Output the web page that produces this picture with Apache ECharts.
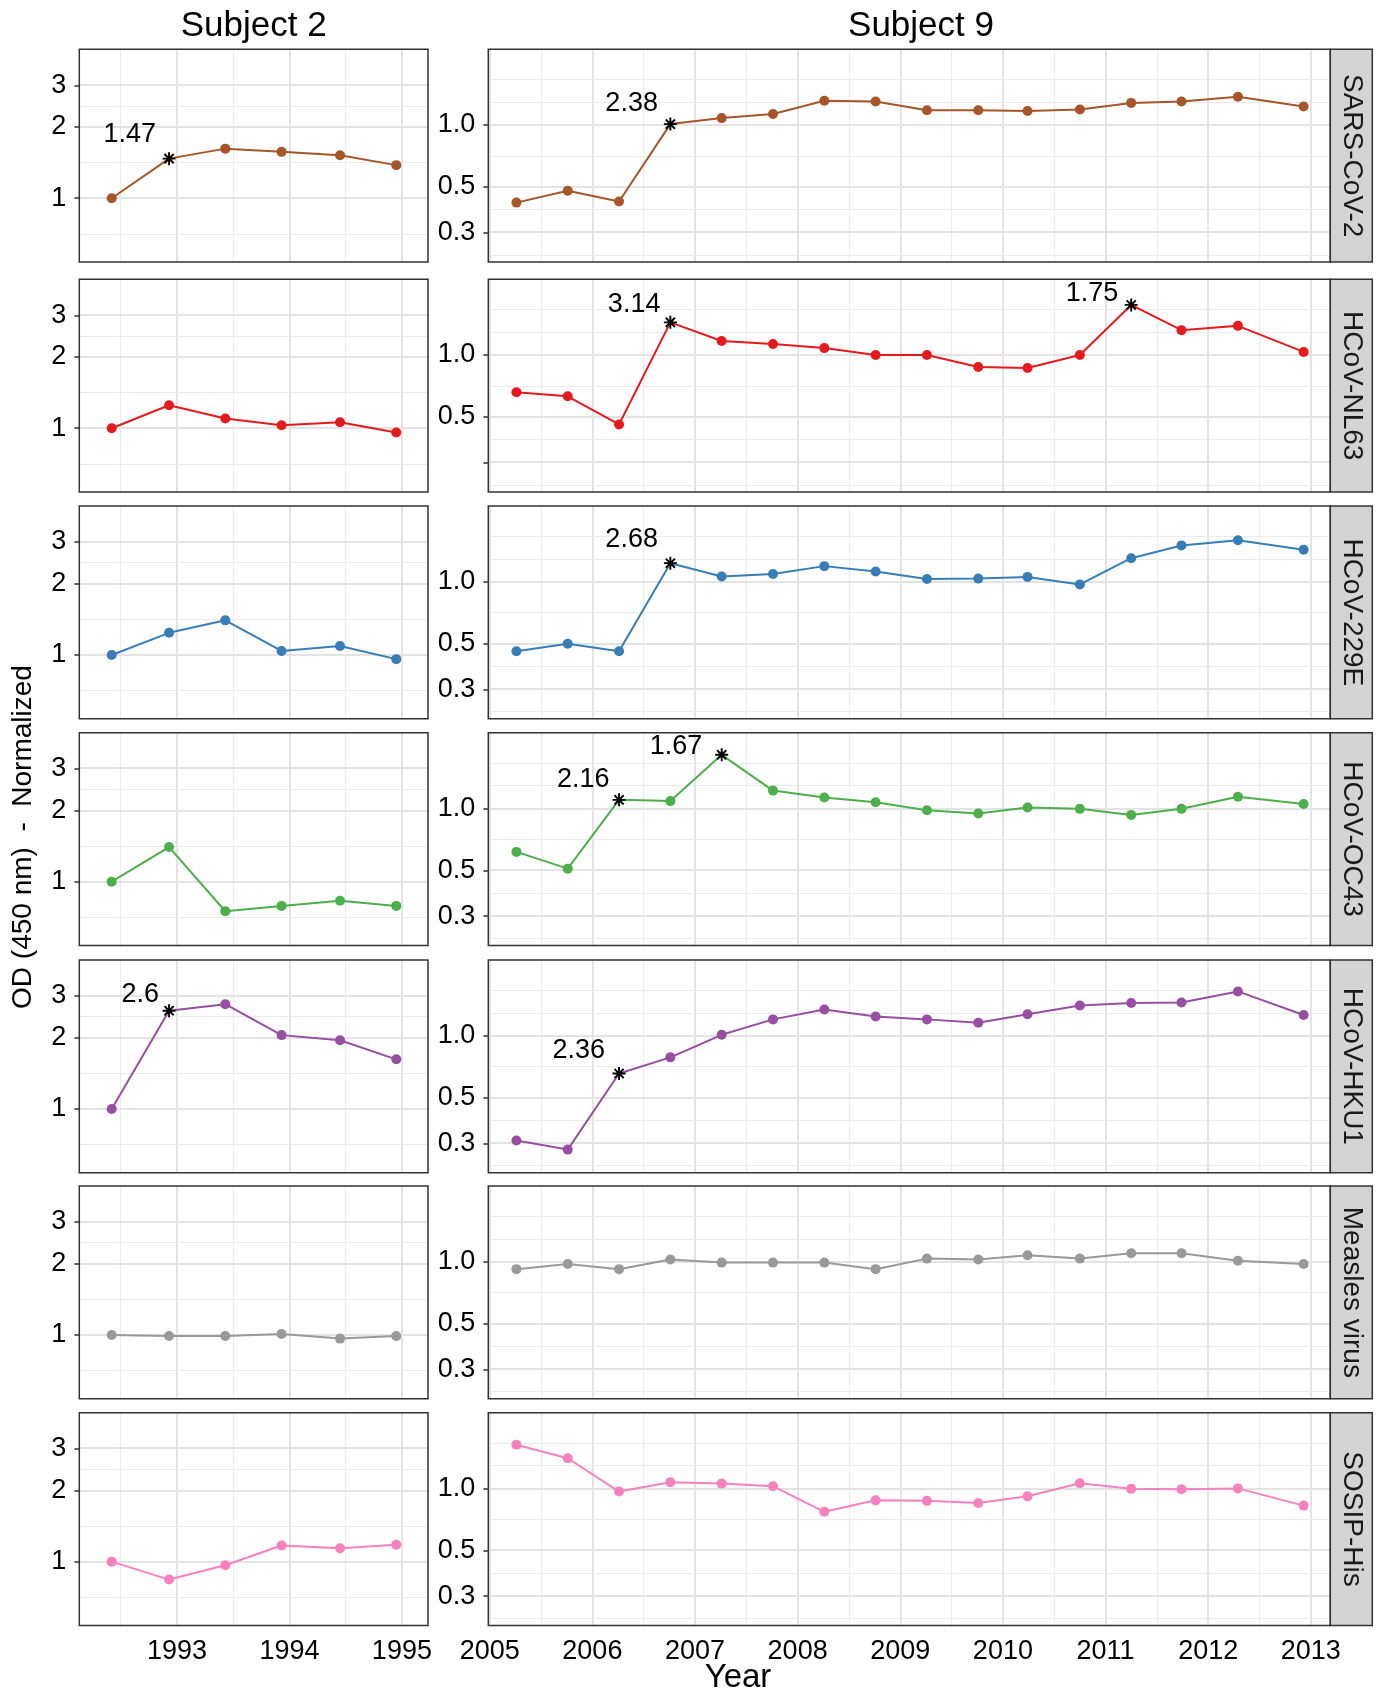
<!DOCTYPE html>
<html>
<head>
<meta charset="utf-8">
<title>OD (450 nm) - Normalized</title>
<script src="https://cdn.jsdelivr.net/npm/echarts@6.0.0/dist/echarts.min.js"></script>
<style>
  html, body { margin: 0; padding: 0; background: #fff; }
  #chart { width: 1380px; height: 1692px; }
</style>
</head>
<body>
<div id="chart"></div>
<script>
let antigens = ['SARS-CoV-2', 'HCoV-NL63', 'HCoV-229E', 'HCoV-OC43', 'HCoV-HKU1', 'Measles virus', 'SOSIP-His'];
let antigenColors = ['#A65628', '#E41A1C', '#377EB8', '#4DAF4A', '#984EA3', '#999999', '#F781BF'];

let subject2Years = [1992.42, 1992.93, 1993.43, 1993.93, 1994.45, 1994.95];
let subject9Years = [2005.26, 2005.76, 2006.26, 2006.76, 2007.26, 2007.76, 2008.26, 2008.76,
  2009.26, 2009.76, 2010.24, 2010.75, 2011.25, 2011.74, 2012.29, 2012.93];

let s2Sars = [1, 1.47, 1.62, 1.57, 1.52, 1.38];
let s2Nl63 = [1, 1.25, 1.10, 1.03, 1.06, 0.96];
let s2E229 = [1, 1.24, 1.40, 1.04, 1.09, 0.96];
let s2Oc43 = [1, 1.40, 0.75, 0.79, 0.83, 0.79];
let s2Hku1 = [1, 2.60, 2.77, 2.05, 1.95, 1.62];
let s2Measles = [1, 0.99, 0.99, 1.01, 0.965, 0.99];
let s2Sosip = [1, 0.84, 0.965, 1.17, 1.14, 1.18];

let s9Sars = [0.42, 0.48, 0.425, 1.01, 1.08, 1.13, 1.31, 1.30, 1.18, 1.18, 1.17, 1.19, 1.28, 1.30, 1.37, 1.23];
let s9Nl63 = [0.66, 0.63, 0.46, 1.44, 1.17, 1.13, 1.08, 1.0, 1.0, 0.875, 0.865, 1.0, 1.75, 1.32, 1.385, 1.035];
let s9E229 = [0.46, 0.50, 0.46, 1.23, 1.06, 1.09, 1.19, 1.12, 1.03, 1.035, 1.055, 0.97, 1.30, 1.50, 1.59, 1.43];
let s9Oc43 = [0.615, 0.51, 1.10, 1.085, 1.82, 1.22, 1.13, 1.07, 0.98, 0.945, 1.01, 0.995, 0.93, 0.995, 1.14, 1.05];
let s9Hku1 = [0.31, 0.28, 0.655, 0.785, 1.01, 1.20, 1.34, 1.24, 1.20, 1.155, 1.27, 1.40, 1.44, 1.45, 1.64, 1.26];
let s9Measles = [0.92, 0.975, 0.92, 1.025, 0.99, 0.99, 0.99, 0.92, 1.035, 1.025, 1.075, 1.035, 1.10, 1.10, 1.01, 0.975];
let s9Sosip = [1.63, 1.40, 0.965, 1.07, 1.055, 1.025, 0.77, 0.875, 0.87, 0.85, 0.915, 1.06, 0.995, 0.99, 1.0, 0.825];

// fold-change markers (subject, antigen row, point index, text)
let starSubject = [2, 2, 9, 9, 9, 9, 9, 9, 9];
let starAntigen = [0, 4, 0, 1, 1, 2, 3, 3, 4];
let starIndex = [1, 1, 3, 3, 12, 3, 2, 4, 2];
let starText = ['1.47', '2.6', '2.38', '3.14', '1.75', '2.68', '2.16', '1.67', '2.36'];

let s2Ticks = [1, 2, 3];
let s2TickLabels = ['1', '2', '3'];
let s2MinorY = [0.707, 1.414, 2.449];
let s2YearTicks = [1993, 1994, 1995];
let s2MinorYears = [1992.5, 1993.5, 1994.5];

let s9Ticks = [0.3, 0.5, 1.0];
let s9TickLabels = ['0.3', '0.5', '1.0'];
let s9MinorY = [0.232, 0.387, 0.707, 1.29, 1.667];
let s9YearTicks = [2005, 2006, 2007, 2008, 2009, 2010, 2011, 2012, 2013];
let s9MinorYears = [2005.5, 2006.5, 2007.5, 2008.5, 2009.5, 2010.5, 2011.5, 2012.5];
let s9UnlabeledTicks = [[], [0.3], [], [], [], [], []];

let s2XRange = [1992.132, 1995.232];
let s2YRange = [0.538, 4.256];
let s9XRange = [2004.986, 2013.19];
let s9YRange = [0.2163, 2.33];

// layout
let FONT = '"Liberation Sans", Arial, Helvetica, sans-serif';
let rowTops = [49.3, 279.3, 506, 732.7, 960, 1186, 1412.7];
let panelH = 212.7;
let stripW = 42;
let starNudge = [[12, 24], [9, 16], [11.5, 21], [9, 18], [12, 11], [11.5, 24], [8.5, 20], [18.5, 8], [13, 23]];
let asterisk = 'path://M5 0V10M0 5H10M1.46 1.46L8.54 8.54M1.46 8.54L8.54 1.46';

let lg = v => Math.log10(v);

let subjects = [
  {
    id: 2, title: 'Subject 2', years: subject2Years,
    values: [s2Sars, s2Nl63, s2E229, s2Oc43, s2Hku1, s2Measles, s2Sosip],
    xRange: s2XRange, yRange: s2YRange, ticks: s2Ticks, tickLabels: s2TickLabels,
    minorY: s2MinorY, yearTicks: s2YearTicks, minorYears: s2MinorYears,
    left: 79.3, width: 348.7
  },
  {
    id: 9, title: 'Subject 9', years: subject9Years,
    values: [s9Sars, s9Nl63, s9E229, s9Oc43, s9Hku1, s9Measles, s9Sosip],
    xRange: s9XRange, yRange: s9YRange, ticks: s9Ticks, tickLabels: s9TickLabels,
    minorY: s9MinorY, yearTicks: s9YearTicks, minorYears: s9MinorYears,
    left: 488.3, width: 842
  }
];

function tickLabel(v, ticks, labels) {
  let i = ticks.findIndex(t => Math.abs(lg(t) - v) < 1e-6);
  return i < 0 ? '' : labels[i];
}

function gridLines(subj) {
  let major = { color: '#e3e3e3', width: 2, type: 'solid' };
  let minor = { color: '#ebebeb', width: 1.2, type: 'solid' };
  let lines = [];
  subj.yearTicks.forEach(v => lines.push({ xAxis: v, lineStyle: major }));
  subj.minorYears.forEach(v => lines.push({ xAxis: v, lineStyle: minor }));
  subj.ticks.forEach(v => lines.push({ yAxis: lg(v), lineStyle: major }));
  subj.minorY.forEach(v => lines.push({ yAxis: lg(v), lineStyle: minor }));
  return lines;
}

let grids = [];
let xAxes = [];
let yAxes = [];
let series = [];
let graphics = [];

antigens.forEach((name, r) => {

  let isBottom = r === antigens.length - 1;

  subjects.forEach(subj => {

    let idx = grids.length;
    let color = antigenColors[r];
    let values = subj.values[r];

    grids.push({
      left: subj.left, top: rowTops[r], width: subj.width, height: panelH,
      show: true, borderColor: '#333', borderWidth: 1.5, backgroundColor: 'transparent',
      z: 2, containLabel: false, outerBoundsMode: 'none'
    });

    xAxes.push({
      gridIndex: idx, type: 'value', min: subj.xRange[0], max: subj.xRange[1],
      axisLine: { show: false },
      splitLine: { show: false },
      axisTick: {
        show: isBottom, length: 5, customValues: subj.yearTicks,
        lineStyle: { color: '#333', width: 1.5 }
      },
      axisLabel: {
        show: isBottom, customValues: subj.yearTicks, margin: 13,
        formatter: v => String(Math.round(v)),
        fontSize: 27, color: '#000', fontFamily: FONT
      }
    });

    let hidden = subj.id === 9 ? s9UnlabeledTicks[r] : [];
    let labelTicks = subj.ticks.filter(t => hidden.indexOf(t) < 0);

    yAxes.push({
      gridIndex: idx, type: 'value', min: lg(subj.yRange[0]), max: lg(subj.yRange[1]),
      axisLine: { show: false },
      splitLine: { show: false },
      axisTick: {
        show: true, length: 5, customValues: subj.ticks.map(lg),
        lineStyle: { color: '#333', width: 1.5 }
      },
      axisLabel: {
        show: true, customValues: labelTicks.map(lg), margin: 13,
        formatter: v => tickLabel(v, subj.ticks, subj.tickLabels),
        fontSize: 27, color: '#000', fontFamily: FONT
      }
    });

    let stars = [];
    starSubject.forEach((s, k) => {
      if (s === subj.id && starAntigen[k] === r) stars.push(k);
    });
    let starredIdx = stars.map(k => starIndex[k]);

    series.push({
      type: 'line', xAxisIndex: idx, yAxisIndex: idx, z: 3, silent: true,
      symbol: 'circle', symbolSize: 10, showSymbol: true,
      lineStyle: { color: color, width: 2 },
      itemStyle: { color: color },
      data: subj.years.map((x, i) => starredIdx.indexOf(i) >= 0
        ? { value: [x, lg(values[i])], symbol: 'none' }
        : [x, lg(values[i])]),
      markLine: {
        silent: true, symbol: 'none', z: 1, animation: false,
        label: { show: false },
        emphasis: { disabled: true },
        data: gridLines(subj)
      }
    });

    if (stars.length) {
      series.push({
        type: 'scatter', xAxisIndex: idx, yAxisIndex: idx, z: 4, silent: true,
        symbol: asterisk, symbolSize: 13,
        itemStyle: { color: 'rgba(0,0,0,0)', borderColor: '#000', borderWidth: 1.9, opacity: 1 },
        label: {
          show: true, position: 'left', distance: 0, formatter: '{b}',
          fontSize: 27, color: '#000', fontFamily: FONT, textBorderWidth: 0
        },
        data: stars.map(k => ({
          name: starText[k],
          value: [subj.years[starIndex[k]], lg(values[starIndex[k]])],
          label: { offset: [6.5 - starNudge[k][0], -starNudge[k][1]] }
        }))
      });
    }

  });

  // facet strip on the right
  let stripX = subjects[1].left + subjects[1].width;
  graphics.push({
    type: 'rect', z: 10,
    shape: { x: stripX, y: rowTops[r], width: stripW, height: panelH },
    style: { fill: '#d4d4d4', stroke: '#333', lineWidth: 1.5 }
  });
  graphics.push({
    type: 'text', z: 11,
    x: stripX + stripW / 2, y: rowTops[r] + panelH / 2, rotation: -Math.PI / 2,
    style: {
      text: name, fontSize: 28, fontFamily: FONT, fill: '#1a1a1a',
      align: 'center', verticalAlign: 'middle'
    }
  });

});

subjects.forEach(subj => {
  graphics.push({
    type: 'text', z: 11,
    x: subj.id === 2 ? subj.left + subj.width / 2 : 921, y: 26,
    style: {
      text: subj.title, fontSize: 35, fontFamily: FONT, fill: '#000',
      align: 'center', verticalAlign: 'middle'
    }
  });
});

graphics.push({
  type: 'text', z: 11, x: 738, y: 1678,
  style: { text: 'Year', fontSize: 33, fontFamily: FONT, fill: '#000', align: 'center', verticalAlign: 'middle' }
});

graphics.push({
  type: 'text', z: 11, x: 23, y: 837, rotation: Math.PI / 2,
  style: {
    text: 'OD (450 nm)  -  Normalized', fontSize: 28, fontFamily: FONT, fill: '#000',
    align: 'center', verticalAlign: 'middle'
  }
});

let chart = echarts.init(document.getElementById('chart'), null, { renderer: 'canvas', width: 1380, height: 1692 });

chart.setOption({
  animation: false,
  backgroundColor: '#fff',
  grid: grids,
  xAxis: xAxes,
  yAxis: yAxes,
  series: series,
  graphic: graphics
});
</script>
</body>
</html>
